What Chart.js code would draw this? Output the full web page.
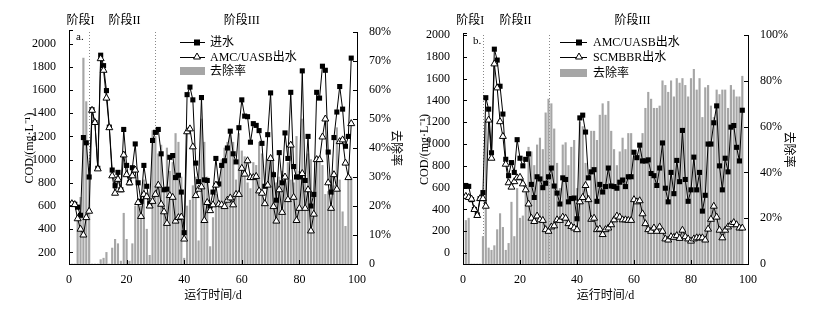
<!DOCTYPE html>
<html><head><meta charset="utf-8">
<script src="https://cdn.jsdelivr.net/npm/chart.js@4.4.1/dist/chart.umd.min.js"></script>
<style>
html,body{margin:0;padding:0;background:#fff;}
#wrap{position:relative;width:818px;height:309px;overflow:hidden;}
.box{position:absolute;top:0;height:309px;width:409px;}
#ba{left:0;} #bb{left:409px;}
</style></head><body>
<div id="wrap"><div class="box" id="ba"><canvas id="ca"></canvas></div><div class="box" id="bb"><canvas id="cb"></canvas></div></div>
<script>
// ---- data ----
const days = [1,2,3,4,5,6,7,8,9,10,11,12,13,14,15,16,17,18,19,20,21,22,23,24,25,26,27,28,29,30,31,32,33,34,35,36,37,38,39,40,41,42,43,44,45,46,47,48,49,50,51,52,53,54,55,56,57,58,59,60,61,62,63,64,65,66,67,68,69,70,71,72,73,74,75,76,77,78,79,80,81,82,83,84,85,86,87,88,89,90,91,92,93,94,95,96,97,98];
const influent = [620,615,590,520,1190,1145,850,1430,1320,925,1900,1810,1595,1280,910,775,890,740,1260,950,800,930,1135,800,640,950,770,620,1165,1235,1260,1050,740,745,1020,1035,845,865,720,370,1560,1625,1515,970,810,1535,825,820,600,720,1010,790,950,990,1100,1245,1050,980,1275,1515,1375,1370,1150,1310,1295,1250,1140,770,1215,1575,870,650,1060,800,1230,1010,1580,940,850,850,1765,820,1200,600,700,1580,1530,1805,1770,1065,720,1190,1410,1630,1435,1115,1200,1875];
const uasbOut = [620,612,490,400,350,500,555,1425,1320,920,1870,1770,1530,1275,860,710,830,740,1040,870,800,860,910,630,510,700,680,600,640,700,780,615,550,450,690,675,470,500,505,315,1240,1265,1110,690,745,765,475,630,560,610,780,615,610,595,650,670,610,700,700,925,875,990,845,845,855,730,710,620,780,1010,595,470,740,545,850,655,1125,675,475,580,880,580,740,385,530,1000,1000,1195,1350,800,580,870,745,1155,1170,970,845,1310];
const mbbrOut = [520,510,495,400,345,500,500,430,1220,870,1735,1515,1205,1070,815,645,605,655,690,695,635,580,450,320,290,340,305,300,215,200,240,250,305,300,330,320,270,245,230,215,470,510,620,490,310,320,215,220,170,215,230,260,305,340,330,305,305,300,300,490,470,480,360,270,215,200,230,200,240,200,130,120,150,145,160,135,210,150,130,110,130,140,140,140,120,220,310,430,330,210,140,210,240,260,280,260,230,230];
const removalA = [0,0,17,23,71,56,33,0,0,0,1.5,2,4,0,5.5,8.5,7,1,17.5,8.5,1,7,20,21,20,29,12,3,46,44,38,41,26,40,32,35,45,42,30,2,20,22,27,30,8,50,42,30,6,16,24,22,36,40,42,46,42,29,45,39,37,28,26,35,34,42,38,20,36,36,32,28,30,32,30,35,29,28,44,32,50,29,38,36,24,37,35,34,24,25,19,27,47,29,18,13,30,30];
const removalB = [19,20,0,0,0,0,12,62,7,6,8,15,22,16,6,9,27,12,33,20,21,31,51,49,43,52,55,50,66,72,70,59,44,33,52,53,43,51,54,33,62,60,44,30,58,58,54,65,70,65,71,58,50,43,49,55,50,57,57,47,46,52,57,68,75,72,68,68,69,80,78,75,80,73,81,79,81,78,73,81,85,76,81,64,77,78,69,64,76,74,76,76,68,78,76,73,73,82];
const xTicks = [0,20,40,60,80,100];
const yTicksA = [200,400,600,800,1000,1200,1400,1600,1800,2000];
const yTicksB = [0,200,400,600,800,1000,1200,1400,1600,1800,2000];
const rTicksA = [0,10,20,30,40,50,60,70,80];
const rTicksB = [0,20,40,60,80,100];
const phaseNames = ['阶段I','阶段II','阶段III'];
const phaseBounds = [7,30];

const FAM = "'Liberation Serif','Times New Roman','Noto Sans CJK SC',serif";
const pts = arr => days.map((d,i)=>({x:d,y:arr[i]}));

function drawTri(ctx,x,y,r){
  ctx.beginPath();
  ctx.moveTo(x, y-r);
  ctx.lineTo(x+r*0.866, y+r*0.5);
  ctx.lineTo(x-r*0.866, y+r*0.5);
  ctx.closePath();
  ctx.fillStyle='#fff'; ctx.fill(); ctx.strokeStyle='#000'; ctx.lineWidth=1; ctx.stroke();
}

const deco = {
  id:'deco',
  beforeDatasetsDraw(chart, args, o){
    const ctx=chart.ctx, ca=chart.chartArea, xs=chart.scales.x;
    ctx.save();
    ctx.strokeStyle='#888'; ctx.lineWidth=1; ctx.setLineDash([1,2]);
    phaseBounds.forEach(d=>{
      const px=Math.round(xs.getPixelForValue(d))+0.5;
      ctx.beginPath(); ctx.moveTo(px,ca.top); ctx.lineTo(px,ca.bottom); ctx.stroke();
    });
    ctx.restore();
  },
  afterDraw(chart, args, o){
    const ctx=chart.ctx, ca=chart.chartArea, xs=chart.scales.x, ys=chart.scales.y, y1=chart.scales.y1;
    ctx.save();
    ctx.strokeStyle='#000'; ctx.lineWidth=1;
    const L=(a,b,c,d)=>{ctx.beginPath();ctx.moveTo(a,b);ctx.lineTo(c,d);ctx.stroke();};
    ys.ticks.forEach(t=>{const py=Math.round(ys.getPixelForValue(t.value))+0.5; L(ca.left,py,ca.left+4,py);});
    y1.ticks.forEach(t=>{const py=Math.round(y1.getPixelForValue(t.value))+0.5; L(ca.right-4,py,ca.right,py);});
    xs.ticks.forEach(t=>{const px=Math.round(xs.getPixelForValue(t.value))+0.5; L(px,ca.bottom,px,ca.bottom-4);});
    L(Math.round(ca.left)+0.5, ca.top-2, Math.round(ca.left)+0.5, ca.bottom);
    L(Math.round(ca.left), ca.top-1.5, Math.round(ca.left)+4, ca.top-1.5);
    ctx.fillStyle='#000'; ctx.font='12px '+FAM; ctx.textAlign='center'; ctx.textBaseline='middle';
    o.phasePos.forEach((d,i)=>ctx.fillText(phaseNames[i], xs.getPixelForValue(d), 21));
    ctx.textAlign='left'; ctx.font='11px '+FAM;
    ctx.fillText(o.letter, o.letterX, o.letterY);
    const lg=o.legend;
    ctx.font='12px '+FAM; ctx.textBaseline='middle';
    L(lg.x1, lg.y[0]+0.5, lg.x2, lg.y[0]+0.5);
    ctx.fillStyle='#000'; ctx.fillRect(lg.xm-3, lg.y[0]-2.5, 6, 6);
    L(lg.x1, lg.y[1]+0.5, lg.x2, lg.y[1]+0.5);
    drawTri(ctx, lg.xm, lg.y[1], 4);
    ctx.fillStyle='#a6a6a6'; ctx.fillRect(lg.x1, lg.y[2]-4, lg.x2-lg.x1, 8);
    ctx.fillStyle='#000';
    lg.text.forEach((t,i)=>ctx.fillText(t, lg.xt, lg.y[i]+1));
    ctx.restore();
  }
};

function make(id, cfg){
  const lineSq = {type:'line', data:pts(cfg.sq), yAxisID:'y', order:1, borderColor:'#000', borderWidth:1,
    pointStyle:'rect', pointRadius:3.6, pointBackgroundColor:'#000', pointBorderColor:'#000', pointBorderWidth:0, tension:0};
  const lineTri = {type:'line', data:pts(cfg.tri), yAxisID:'y', order:0, borderColor:'#000', borderWidth:1,
    pointStyle:'triangle', pointRadius:4, pointBackgroundColor:'#fff', pointBorderColor:'#000', pointBorderWidth:1, tension:0};
  const bars = {type:'bar', data:pts(cfg.bar), yAxisID:'y1', order:2, backgroundColor:'#a6a6a6', barThickness:1.5};
  const tickFont = {family:FAM, size:12};
  return new Chart(document.getElementById(id), {
    type:'line',
    data:{datasets:[lineTri, lineSq, bars]},
    options:{
      responsive:true, maintainAspectRatio:false, animation:false, events:[],
      layout:{padding:{top:cfg.top, left:0, right:0, bottom:0}},
      plugins:{legend:{display:false}, tooltip:{enabled:false}, deco:cfg.deco},
      scales:{
        x:{type:'linear', min:0, max:100, offset:false, position:'bottom',
          grid:{display:false}, border:{display:true, color:'#000', width:1},
          afterBuildTicks:s=>{s.ticks=xTicks.map(v=>({value:v}));},
          afterFit:s=>{s.height=45;},
          ticks:{font:tickFont, color:'#000', padding:1, maxRotation:0, callback:v=>String(v)},
          title:{display:true, text:'运行时间/d', font:{family:FAM,size:12}, color:'#000', padding:{top:0,bottom:6}}},
        y:{type:'linear', position:'left', min:cfg.ymin, max:cfg.ymax,
          grid:{display:false}, border:{display:true, color:'#000', width:1},
          afterBuildTicks:s=>{s.ticks=cfg.yTicks.map(v=>({value:v}));},
          afterFit:s=>{s.width=cfg.lw;},
          ticks:{font:tickFont, color:'#000', padding:5, callback:v=>String(v)},
          title:{display:true, text:'COD/(mg·L⁻¹)', font:{family:FAM,size:12}, color:'#000', padding:{top:cfg.ltp,bottom:0}}},
        y1:{type:'linear', position:'right', min:0, max:cfg.rmax,
          grid:{display:false}, border:{display:true, color:'#000', width:1},
          afterBuildTicks:s=>{s.ticks=cfg.rTicks.map(v=>({value:v}));},
          afterFit:s=>{s.width=cfg.rw;},
          ticks:{font:tickFont, color:'#000', padding:4, callback:v=> v===0?'0':v+'%'},
          title:{display:true, text:'去除率', font:{family:FAM,size:12}, color:'#000', padding:{top:cfg.rtp,bottom:0}}}
      }
    },
    plugins:[deco]
  });
}

make('ca', {sq:influent, tri:uasbOut, bar:removalA, top:32, ymin:100, ymax:2100, yTicks:yTicksA, rmax:80, rTicks:rTicksA,
  lw:69, rw:52, ltp:23, rtp:7,
  deco:{phasePos:[4,19.3,60], letter:'a.', letterX:76, letterY:37,
    legend:{x1:180, x2:205, xm:197, xt:210, y:[42,57,71], text:['进水','AMC/UASB出水','去除率']}}});
make('cb', {sq:uasbOut, tri:mbbrOut, bar:removalB, top:35, ymin:-100, ymax:2000, yTicks:yTicksB, rmax:100, rTicks:rTicksB,
  lw:54, rw:70, ltp:9, rtp:23,
  deco:{phasePos:[2.5,18.4,59.5], letter:'b.', letterX:64, letterY:41,
    legend:{x1:151, x2:178, xm:170, xt:184, y:[42,57,73], text:['AMC/UASB出水','SCMBBR出水','去除率']}}});
</script>
</body></html>
